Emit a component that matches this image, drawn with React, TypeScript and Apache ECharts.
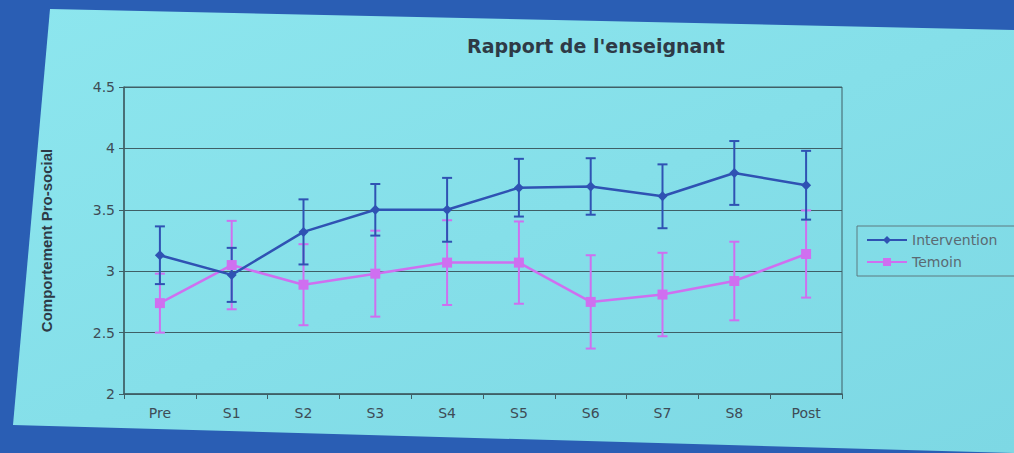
import React, { useEffect, useRef } from "react";
import * as echarts from "echarts";

const categories = ["Pre", "S1", "S2", "S3", "S4", "S5", "S6", "S7", "S8", "Post"];
const interventionMean = [3.13, 2.97, 3.32, 3.5, 3.5, 3.68, 3.69, 3.61, 3.8, 3.7];
const interventionErr = [0.235, 0.22, 0.265, 0.21, 0.26, 0.235, 0.23, 0.26, 0.26, 0.28];
const temoinMean = [2.74, 3.05, 2.89, 2.98, 3.07, 3.07, 2.75, 2.81, 2.92, 3.14];
const temoinErr = [0.24, 0.36, 0.33, 0.35, 0.345, 0.335, 0.38, 0.34, 0.32, 0.355];
const yTicks = { min: 2, max: 4.5, interval: 0.5 };

const BLUE = "#2f52b3";
const PINK = "#cf6ff0";
const TEXT = "#3e4c56";
const GRID = "#3f5f66";
const WIDE = "'DejaVu Sans', sans-serif";
const FONT = "'Liberation Sans', Arial, sans-serif";

function errorBars(mean: number[], err: number[], color: string, name: string) {
  return {
    type: "custom",
    name: name + "-err",
    silent: true,
    z: 1,
    data: mean.map((m, i) => [i, m - err[i], m + err[i]]),
    encode: { x: 0, y: [1, 2] },
    renderItem: (_p: any, api: any) => {
      const x = api.value(0);
      const lo = api.coord([x, api.value(1)]);
      const hi = api.coord([x, api.value(2)]);
      const w = 5;
      const st = { stroke: color, lineWidth: 2 };
      return {
        type: "group",
        children: [
          { type: "line", shape: { x1: lo[0], y1: lo[1], x2: hi[0], y2: hi[1] }, style: st },
          { type: "line", shape: { x1: lo[0] - w, y1: lo[1], x2: lo[0] + w, y2: lo[1] }, style: st },
          { type: "line", shape: { x1: hi[0] - w, y1: hi[1], x2: hi[0] + w, y2: hi[1] }, style: st },
        ],
      };
    },
  };
}

export default function App() {
  const ref = useRef<HTMLDivElement>(null);
  useEffect(() => {
    if (!ref.current) return;
    const chart = echarts.init(ref.current, null, { renderer: "svg" });
    chart.setOption({
      animation: false,
      backgroundColor: "#2a5eb4",
      graphic: [
        {
          type: "polygon",
          z: -100,
          silent: true,
          shape: { points: [[50, 9], [1014, 30], [1014, 453], [13, 425]] },
          style: {
            fill: new echarts.graphic.LinearGradient(0, 0, 1, 1, [
              { offset: 0, color: "#8de6ee" },
              { offset: 1, color: "#7dd8e4" },
            ]),
          },
        },
      ],
      title: {
        text: "Rapport de l'enseignant",
        left: 591,
        top: 31,
        textAlign: "center",
        textStyle: { fontFamily: WIDE, fontSize: 19, fontWeight: "bold", color: "#2e3a46" },
      },
      legend: {
        orient: "vertical",
        left: 857,
        top: 226,
        padding: [7, 60, 7, 9],
        borderColor: "#5d7a80",
        borderWidth: 1,
        itemWidth: 40,
        itemHeight: 10,
        itemGap: 8,
        data: ["Intervention", "Temoin"],
        textStyle: { fontFamily: WIDE, fontSize: 14, color: "#5b6a72" },
      },
      grid: {
        left: 124,
        top: 87,
        width: 718,
        height: 307,
        show: true,
        borderColor: GRID,
        borderWidth: 1,
        containLabel: false,
      },
      xAxis: {
        type: "category",
        data: categories,
        boundaryGap: true,
        axisLine: { show: true, lineStyle: { color: GRID, width: 1.5 } },
        axisTick: { show: true, alignWithLabel: false, length: 5, lineStyle: { color: GRID } },
        axisLabel: { color: TEXT, fontFamily: WIDE, fontSize: 14, margin: 12 },
        splitLine: { show: false },
      },
      yAxis: {
        type: "value",
        min: yTicks.min,
        max: yTicks.max,
        interval: yTicks.interval,
        name: "Comportement Pro-social",
        nameLocation: "middle",
        nameGap: 70,
        nameRotate: 90,
        nameTextStyle: { fontFamily: FONT, fontSize: 15, fontWeight: "bold", color: "#2e3a46" },
        axisLine: { show: true, lineStyle: { color: GRID, width: 1.5 } },
        axisTick: { show: true, length: 5, lineStyle: { color: GRID } },
        axisLabel: { color: TEXT, fontFamily: WIDE, fontSize: 14, margin: 9, formatter: (v: number) => String(v) },
        splitLine: { show: true, lineStyle: { color: GRID, width: 1 } },
      },
      series: [
        errorBars(temoinMean, temoinErr, PINK, "Temoin"),
        errorBars(interventionMean, interventionErr, BLUE, "Intervention"),
        {
          type: "line",
          name: "Temoin",
          data: temoinMean,
          z: 3,
          symbol: "rect",
          symbolSize: 10,
          itemStyle: { color: PINK },
          lineStyle: { color: PINK, width: 2.5 },
        },
        {
          type: "line",
          name: "Intervention",
          data: interventionMean,
          z: 4,
          symbol: "diamond",
          symbolSize: 10,
          itemStyle: { color: BLUE },
          lineStyle: { color: BLUE, width: 2.5 },
        },
      ],
    });
    return () => chart.dispose();
  }, []);
  return (
    <div
      ref={ref}
      style={{ position: "absolute", left: 0, top: 0, width: 1014, height: 453 }}
    />
  );
}
